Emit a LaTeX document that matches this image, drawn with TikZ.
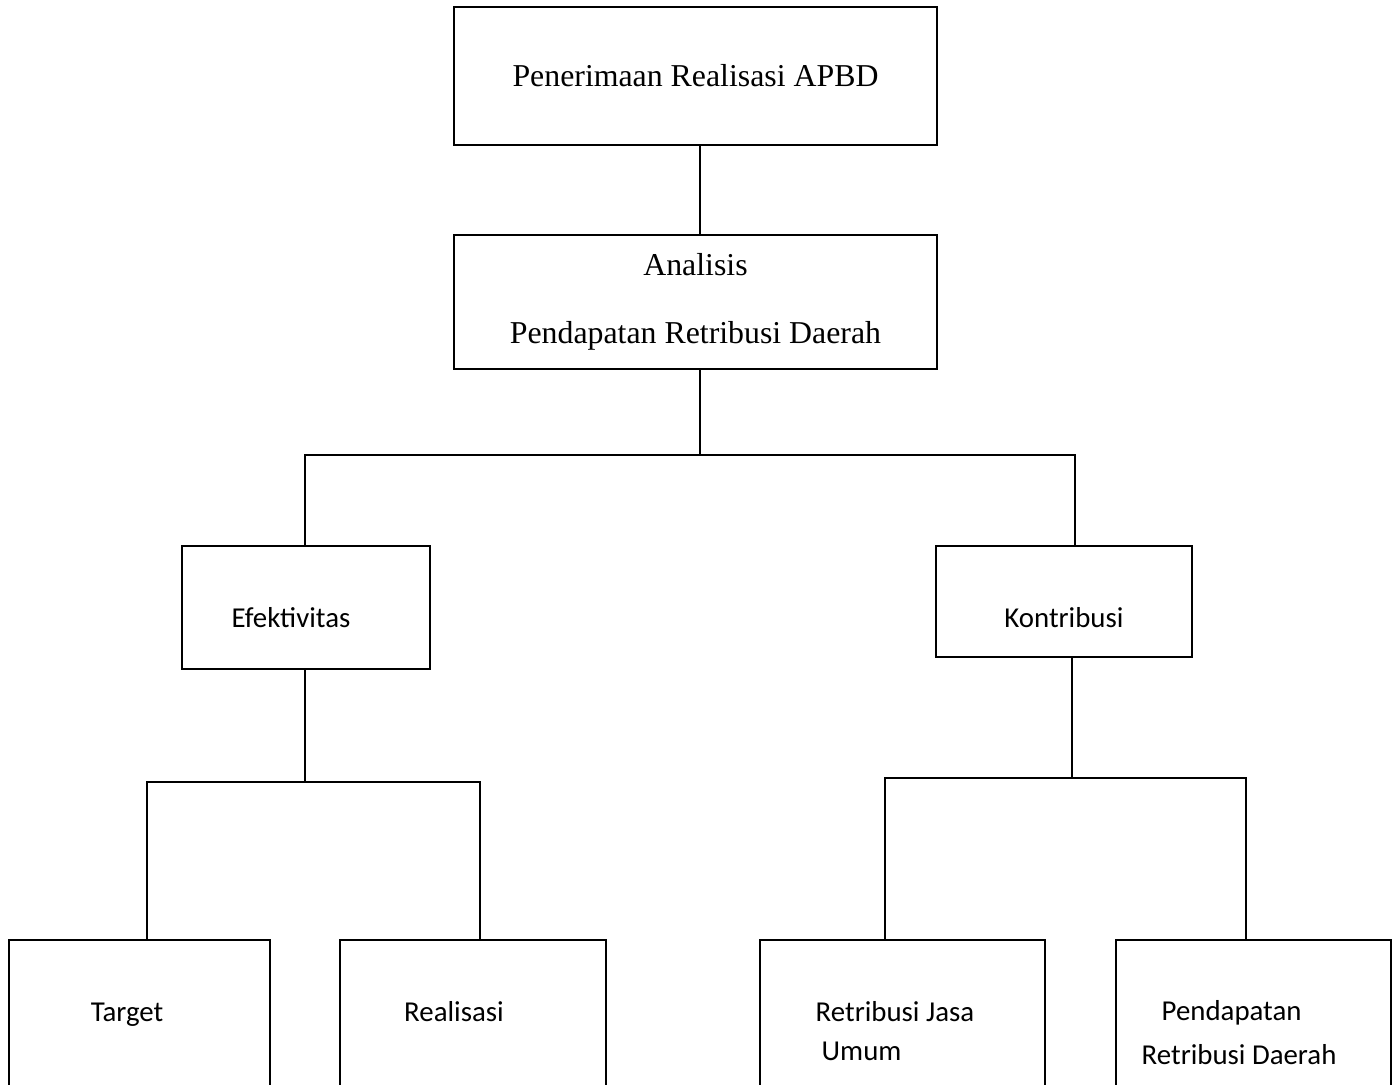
\documentclass[tikz,border=0pt]{standalone}
\usepackage{fontspec}
\setmainfont{Liberation Serif}
\newfontfamily\calibri{Carlito}
\usepackage{tikz}
\tikzset{
  box/.style={draw=black, line width=0.6pt, inner sep=0pt, align=center},
  ttl/.style={font=\fontsize{9.05}{11}\selectfont},
  lbl/.style={font=\calibri\fontsize{8.2}{10}\selectfont, align=left, inner sep=0pt},
  con/.style={line width=0.6pt, draw=black},
}
\begin{document}
\begin{tikzpicture}[x=0.01cm, y=-0.01cm]
        \useasboundingbox (0,0) rectangle (1393,1085);
        \clip (0,0) rectangle (1393,1085);
        % upper levels
        \node[box, ttl, minimum width=4.83cm, minimum height=1.38cm] (apbd) at (695.5,76) {Penerimaan Realisasi APBD};
        \node[box, ttl, minimum width=4.83cm, minimum height=1.34cm] (anl) at (695.5,302) {Analisis\\[8.3pt]Pendapatan Retribusi Daerah};
        \node[box, minimum width=2.48cm, minimum height=1.23cm] (efk) at (306,607.5) {};
        \node[box, minimum width=2.56cm, minimum height=1.11cm] (kon) at (1064,601.5) {};
        \node[lbl, anchor=base] (efk-t) at (291,627) {Efektivitas};
        \node[lbl, anchor=base] (kon-t) at (1064,627) {Kontribusi};
        % bottom level (cut off by the page edge)
        \node[box, minimum width=2.61cm, minimum height=2cm] (tgt) at (139.5,1040) {};
        \node[box, minimum width=2.66cm, minimum height=2cm] (rls) at (473,1040) {};
        \node[box, minimum width=2.85cm, minimum height=2cm] (rju) at (902.5,1040) {};
        \node[box, minimum width=2.75cm, minimum height=2cm] (prd) at (1253.5,1040) {};
        \node[lbl, anchor=base] (tgt-t) at (127,1021) {Target};
        \node[lbl, anchor=base] (rls-t) at (454,1021) {Realisasi};
        \node[lbl, anchor=west] (rju-t) at (815,1031) {Retribusi Jasa\\[1.3pt]\hspace{0.06cm}Umum};
        \node[lbl, anchor=west] (prd-t) at (1141,1033) {\hspace{0.2cm}Pendapatan\\[2.5pt]Retribusi Daerah};
        % connectors
        \coordinate (jA) at (700,455);
        \coordinate (jB) at (305,782);
        \coordinate (jC) at (1072,778);
        \draw[con] (apbd.south -| jA) -- (anl.north -| jA);
        \draw[con] (anl.south -| jA) -- (jA);
        \draw[con] (jA) -| (efk.north -| jB);
        \draw[con] (jA) -| ([xshift=0.11cm]kon.north);
        \draw[con] (efk.south -| jB) -- (jB);
        \draw[con] (jB) -| ([xshift=0.075cm]tgt.north);
        \draw[con] (jB) -| ([xshift=0.07cm]rls.north);
        \draw[con] (kon.south -| jC) -- (jC);
        \draw[con] (jC) -| ([xshift=-0.175cm]rju.north);
        \draw[con] (jC) -| ([xshift=-0.075cm]prd.north);
      \end{tikzpicture}
\end{document}
